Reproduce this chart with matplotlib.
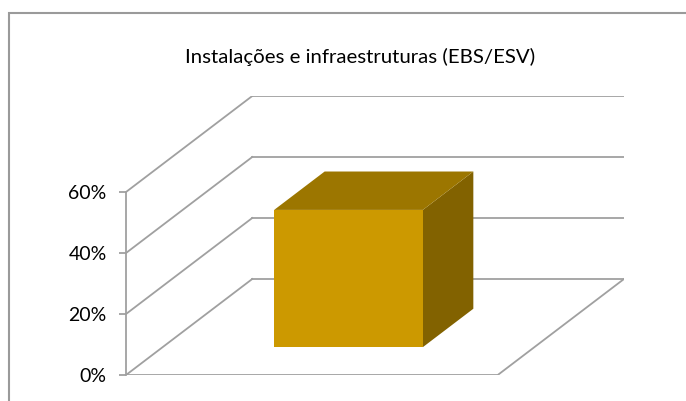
import numpy as np
import matplotlib
matplotlib.use("Agg")
import matplotlib.pyplot as plt
from matplotlib.patches import Polygon, Rectangle
from matplotlib.ticker import PercentFormatter

# chart data
title = "Instalações e infraestruturas (EBS/ESV)"
categories = ["EBS/ESV"]
values = [0.45]
y_ticks = [0.0, 0.2, 0.4, 0.6]

# oblique depth offset (in data units) for the back wall
DEPTH_X = 0.3396
DEPTH_Y = 0.3148
BAR_WIDTH = 0.4
BAR_DEPTH = (0.29, 0.69)

FRONT = "#cc9900"
TOP = "#9c7600"
SIDE = "#826200"
GRID = "#a0a0a0"

plt.rcParams["font.family"] = ["Lato", "DejaVu Sans"]

W, H = 686, 401
fig = plt.figure(figsize=(W / 100, H / 100), dpi=100)

# chart border (left and top edges visible)
fig.patches.append(Rectangle((9 / W, -0.1), 1.2, 1 - 13 / H + 0.1,
                             transform=fig.transFigure, fill=False,
                             edgecolor="#9a9a9a", linewidth=1.5))

fig.text(360 / W, 1 - 57 / H, title, ha="center", va="center", fontsize=14.7)

ax = fig.add_axes([126 / W, 26 / H, 498 / W, 279 / H])
ax.set_xlim(0, 1 + DEPTH_X)
ax.set_ylim(0, 0.6 + DEPTH_Y)
ax.patch.set_alpha(0)
for s in ["top", "right", "bottom"]:
    ax.spines[s].set_visible(False)
ax.spines["left"].set_bounds(0, y_ticks[-1])
ax.spines["left"].set_color(GRID)
ax.spines["left"].set_linewidth(1.3)
ax.set_xticks([])
ax.set_yticks(y_ticks)
ax.yaxis.set_major_formatter(PercentFormatter(1.0, decimals=0))
ax.tick_params(axis="y", length=5, width=1.3, color=GRID, labelsize=14, pad=9)

lw = 1.3
# side wall diagonals and back wall gridlines
for v in y_ticks:
    ax.plot([0, DEPTH_X], [v, v + DEPTH_Y], color=GRID, lw=lw)
    ax.plot([DEPTH_X, 1 + DEPTH_X], [v + DEPTH_Y] * 2, color=GRID, lw=lw)
# floor front and right edges
ax.plot([0, 1, 1 + DEPTH_X], [0, 0, DEPTH_Y], color=GRID, lw=lw)


def proj(x, z, d):
    return (x + d * DEPTH_X, z + d * DEPTH_Y)


n = len(categories)
for i, v in enumerate(values):
    cx = (i + 0.5) / n
    x0, x1 = cx - BAR_WIDTH / 2, cx + BAR_WIDTH / 2
    d0, d1 = BAR_DEPTH
    front = [proj(x0, 0, d0), proj(x1, 0, d0), proj(x1, v, d0), proj(x0, v, d0)]
    top = [proj(x0, v, d0), proj(x1, v, d0), proj(x1, v, d1), proj(x0, v, d1)]
    side = [proj(x1, 0, d0), proj(x1, 0, d1), proj(x1, v, d1), proj(x1, v, d0)]
    ax.add_patch(Polygon(side, closed=True, facecolor=SIDE, edgecolor="none", zorder=3))
    ax.add_patch(Polygon(top, closed=True, facecolor=TOP, edgecolor="none", zorder=3))
    ax.add_patch(Polygon(front, closed=True, facecolor=FRONT, edgecolor="none", zorder=3))

fig.savefig("out.png", dpi=100, facecolor="white")
